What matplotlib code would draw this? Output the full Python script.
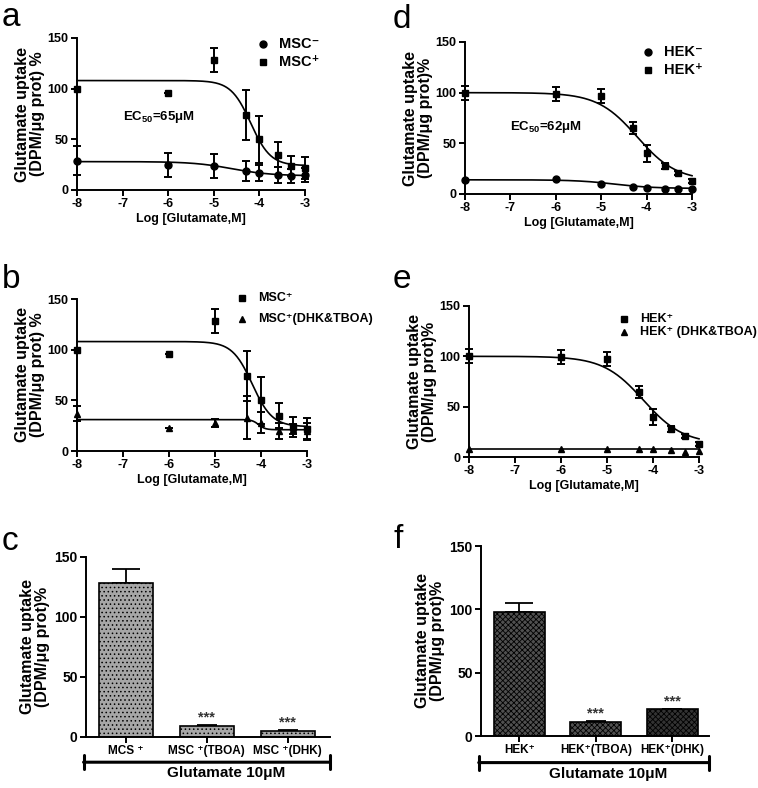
import matplotlib as mpl
import numpy as np
from matplotlib import pyplot as plt

mpl.rcParams['font.family'] = ['Liberation Sans', 'DejaVu Sans']
mpl.rcParams['font.weight'] = 'bold'
mpl.rcParams['mathtext.fontset'] = 'custom'
mpl.rcParams['mathtext.rm'] = 'Liberation Sans:bold'
mpl.rcParams['mathtext.bf'] = 'Liberation Sans:bold'
mpl.rcParams['mathtext.default'] = 'bf'
mpl.rcParams['hatch.linewidth'] = 0.6

# concentrations (log M)
log_glu = [-8, -6, -5, -4.3, -4, -3.6, -3.3, -3]

# MSC data (a, b)
msc_neg = [29, 25, 24, 19, 17, 15, 14, 15]
msc_neg_err = [14, 12, 12, 10, 8, 8, 7, 7]
msc_pos = [100, 96, 128, 74, 50, 35, 24, 22]
msc_pos_err = [0, 0, 12, 25, 23, 12, 10, 11]
msc_block = [37, 23, 28, 33, 28, 20, 22, 20]
msc_block_err = [7, 0, 4, 21, 10, 8, 5, 8]

# HEK data (d, e)
hek_neg = [14, 15, 10, 7, 6, 5, 5, 5]
hek_pos = [100, 99, 97, 65, 40, 28, 21, 13]
hek_pos_err = [7, 7, 7, 6, 8, 3, 2, 2]
hek_block = [8, 8, 8, 8, 8, 7, 5, 6]

# fitted sigmoid parameters (top, bottom, logEC50, hill)
fit_msc_neg = (28, 14, -4.6, 1.0)
fit_msc_pos = (108, 24, -4.19, 2.0)
fit_msc_block = (31, 21, -4.05, 6.0)
fit_hek_neg = (14, 5.5, -4.7, 1.0)
fit_hek_pos = (100, 13, -4.21, 1.0)
fit_hek_block = (8, 8, -4.0, 1.0)

# bar data (c, f)
msc_bar_labels = ['MCS \u207a', 'MSC \u207a(TBOA)', 'MSC \u207a(DHK)']
msc_bar_vals = [128, 9, 5]
msc_bar_err = [12, 1, 0.6]
hek_bar_labels = ['HEK\u207a', 'HEK\u207a(TBOA)', 'HEK\u207a(DHK)']
hek_bar_vals = [98, 11, 21]
hek_bar_err = [7, 0.5, 0.3]

W, H = 758, 788


def px_axes(fig, x0, y0, x1, y1):
    return fig.add_axes([x0 / W, 1 - y1 / H, (x1 - x0) / W, (y1 - y0) / H])


def sigmoid(x, params):
    top, bottom, ec, hill = params
    return bottom + (top - bottom) / (1 + 10 ** ((x - ec) * hill))


def style_axes(ax, size=9):
    for side in ['top', 'right']:
        ax.spines[side].set_visible(False)
    for side in ['left', 'bottom']:
        ax.spines[side].set_linewidth(1.4)
    ax.tick_params(width=1.4, length=4, labelsize=size, pad=2)
    for lab in ax.get_xticklabels() + ax.get_yticklabels():
        lab.set_fontweight('bold')


def dose_panel(ax, series, ylabel):
    xs = np.linspace(-8, -3, 300)
    for vals, err, fit, marker, ms in series:
        ax.plot(xs, sigmoid(xs, fit), color='black', lw=1.2, clip_on=False)
        ax.errorbar(log_glu, vals, yerr=err, fmt=marker, color='black', ms=ms,
                    capsize=3, elinewidth=1.4, capthick=1.4, clip_on=False)
    ax.set_xlim(-8, -3)
    ax.set_ylim(0, 150)
    ax.set_yticks([0, 50, 100, 150])
    ax.set_xticks([-8, -7, -6, -5, -4, -3])
    ax.set_xticklabels(['-8', '-7', '-6', '-5', '-4', '-3'])
    ax.set_xlabel('Log [Glutamate,M]', fontsize=9, fontweight='bold', labelpad=2)
    ax.set_ylabel(ylabel, fontsize=11.5, fontweight='bold', labelpad=2, linespacing=1.0)
    style_axes(ax)


def add_legend(fig, entries, mx, rows, size, gap=16):
    # entries: marker, marker size, label; placed by pixel position
    for (m, ms, text), my in zip(entries, rows):
        fig.lines.append(plt.Line2D([mx / W], [1 - my / H], marker=m, ms=ms, color='black',
                                    ls='none', transform=fig.transFigure))
        fig.text((mx + gap) / W, 1 - my / H, text, fontsize=size, fontweight='bold',
                 va='center')


def bar_panel(ax, labels, vals, err, colors, hatches, xlim, text_x):
    pos = np.arange(len(vals))
    for i in pos:
        ax.bar(pos[i], vals[i], width=0.67, color=colors[i], edgecolor='black',
               linewidth=1.2, hatch=hatches[i], zorder=2)
        ax.errorbar(pos[i], vals[i], yerr=[[0], [err[i]]], fmt='none', color='black',
                    capsize=10 if vals[i] > 50 else 7, elinewidth=1.3, capthick=1.3, zorder=1)
        if i > 0:
            ax.text(pos[i], vals[i] + err[i] + 0.5, '***', ha='center', va='bottom',
                    fontsize=10.5, color='#333333')
    ax.set_xlim(*xlim)
    ax.set_ylim(0, 150)
    ax.set_yticks([0, 50, 100, 150])
    ax.set_xticks(pos)
    ax.set_xticklabels(labels)
    ax.set_ylabel('Glutamate uptake\n(DPM/\u03bcg prot)%', fontsize=11.5, fontweight='bold',
                  labelpad=3, linespacing=1.05)
    style_axes(ax, 10)
    ax.tick_params(axis='x', labelsize=8.5, pad=2)
    ax.annotate('', xy=(-0.01, -0.14), xytext=(1.0, -0.14), xycoords='axes fraction',
                arrowprops=dict(arrowstyle='|-|', lw=2.2, mutation_scale=5, shrinkA=0, shrinkB=0))
    ax.text(text_x, -0.2, 'Glutamate 10\u03bcM', transform=ax.transAxes, ha='center',
            va='center', fontsize=11, fontweight='bold')


fig = plt.figure(figsize=(W / 100, H / 100), dpi=100)

# a
ax_a = px_axes(fig, 77, 38, 305, 190)
dose_panel(ax_a, [(msc_neg, msc_neg_err, fit_msc_neg, 'o', 5),
                  (msc_pos, msc_pos_err, fit_msc_pos, 's', 5)],
           'Glutamate uptake\n(DPM/\u03bcg prot) %')
add_legend(fig, [('o', 5, 'MSC\u207b'), ('s', 5, 'MSC\u207a')], 263, [44, 62], 10.5)
ax_a.text(0.2, 0.48, 'EC$_{50}$=65\u03bcM', transform=ax_a.transAxes, fontsize=9.5,
          fontweight='bold', va='center')

# d
ax_d = px_axes(fig, 465, 42, 692, 194)
dose_panel(ax_d, [(hek_neg, None, fit_hek_neg, 'o', 5),
                  (hek_pos, hek_pos_err, fit_hek_pos, 's', 5)],
           'Glutamate uptake\n(DPM/\u03bcg prot)%')
add_legend(fig, [('o', 5, 'HEK\u207b'), ('s', 5, 'HEK\u207a')], 648, [52, 70], 10.5)
ax_d.text(0.2, 0.44, 'EC$_{50}$=62\u03bcM', transform=ax_d.transAxes, fontsize=9.5,
          fontweight='bold', va='center')

# b
ax_b = px_axes(fig, 77, 299, 307, 451)
dose_panel(ax_b, [(msc_pos, msc_pos_err, fit_msc_pos, 's', 5),
                  (msc_block, msc_block_err, fit_msc_block, '^', 5)],
           'Glutamate uptake\n(DPM/\u03bcg prot) %')
add_legend(fig, [('s', 5, 'MSC\u207a'), ('^', 5, 'MSC\u207a(DHK&TBOA)')], 242, [298, 319], 9)

# e
ax_e = px_axes(fig, 469, 306, 699, 457)
dose_panel(ax_e, [(hek_pos, hek_pos_err, fit_hek_pos, 's', 5),
                  (hek_block, None, fit_hek_block, '^', 4.5)],
           'Glutamate uptake\n(DPM/\u03bcg prot)%')
add_legend(fig, [('s', 5, 'HEK\u207a'), ('^', 4.5, 'HEK\u207a (DHK&TBOA)')], 624, [319, 332], 9)

# c
ax_c = px_axes(fig, 86, 557, 330, 737)
bar_panel(ax_c, msc_bar_labels, msc_bar_vals, msc_bar_err,
          ['#a6a6a6'] * 3, ['....'] * 3, (-0.49, 2.52), 0.575)

# f
ax_f = px_axes(fig, 481, 546, 709, 736)
bar_panel(ax_f, hek_bar_labels, hek_bar_vals, hek_bar_err,
          ['#505050', '#505050', '#333333'], ['xxxxxx'] * 3, (-0.5, 2.48), 0.557)

# panel letters
for x, y, s in [(2, 26, 'a'), (393, 28, 'd'), (2, 288, 'b'), (393, 288, 'e'),
                (2, 550, 'c'), (393, 548, 'f')]:
    fig.text(x / W, 1 - y / H, s, fontsize=24, fontweight='normal', va='baseline')

fig.savefig('out.png', dpi=100)
